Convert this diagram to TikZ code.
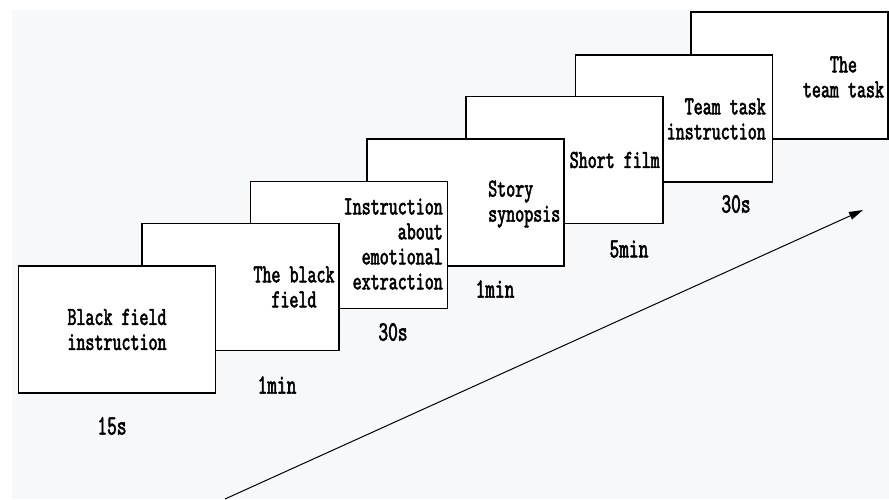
\documentclass[tikz,border=0pt]{standalone}
\usepackage{fontspec}
\usepackage{tikz}
\usetikzlibrary{arrows.meta}
\newfontfamily\slidefont[FakeStretch=0.66,FakeBold=2]{lmmono10-regular.otf}
\definecolor{backgray}{RGB}{247,248,250}

\begin{document}
\begin{tikzpicture}[x=1pt,y=-1pt,
	slide/.style={draw,fill=white,line width=1.1pt,minimum width=197pt,minimum height=127pt,inner sep=0pt},
	slidetext/.style={inner sep=0pt,font=\slidefont\fontsize{26}{25}\selectfont},
	timetext/.style={inner sep=0pt,font=\slidefont\fontsize{28}{28}\selectfont}]
	\useasboundingbox (0,0) rectangle (889,499);
	\fill [backgray] (12,10) rectangle (889,499);
	
	\foreach \x/\cx/\cy in {7/789.5/75.5,6/674/118.5,5/564.5/160,4/465.5/202.5,3/349/245,2/240.5/287,1/117/329.5}{
		\node (s\x) [slide] at (\cx,\cy) {};
	}
	
	\node (t1) [slidetext,align=center] at (s1.center) {Black field\\instruction};
	\node (t2) [slidetext,align=center] at (294,287) {The black\\field};
	\node (t3) [slidetext,align=right,anchor=east] at (443,244) {Instruction\\about\\emotional\\extraction};
	\node (t4) [slidetext,align=left,anchor=west] at (488,204) {Story\\synopsis};
	\node (t5) [slidetext,anchor=east] at (660,160) {Short film};
	\node (t6) [slidetext,align=right,anchor=east] at (766,119) {Team task\\instruction};
	\node (t7) [slidetext,align=center] at (843.5,77) {The\\team task};
	
	\foreach \x/\cx/\cy/\t in {1/112/426/15s,2/277/385/1min,3/393/332/30s,4/495/289/1min,5/629/249/5min,6/736/204/30s}
	\node (d\x) [timetext] at (\cx,\cy) {\t};
	
	\coordinate (arrow start) at (225,499);
	\coordinate (arrow end) at (863,210);
	\draw [line width=1pt,-{Triangle[length=14pt,width=8pt]}] (arrow start) -- (arrow end);
\end{tikzpicture}
\end{document}
